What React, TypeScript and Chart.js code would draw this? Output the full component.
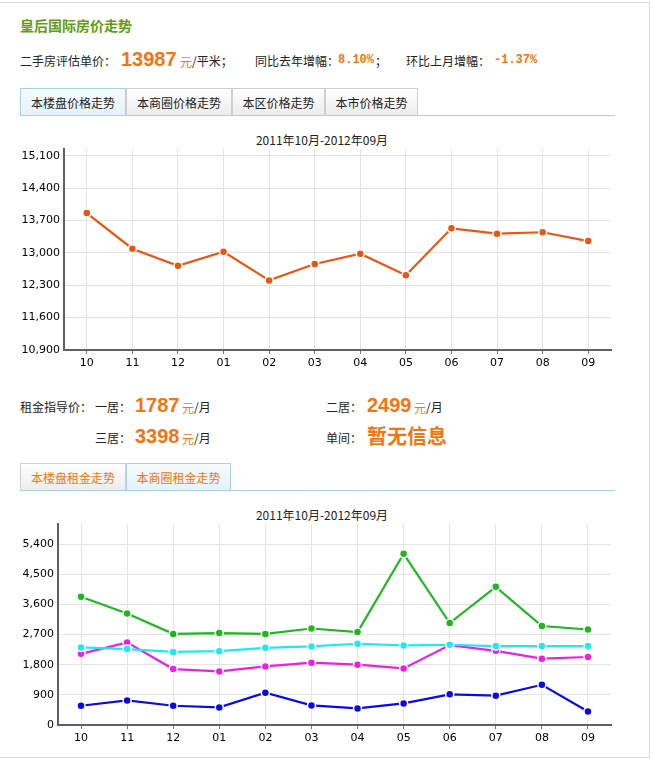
import React, { useEffect, useRef } from "react";
import { Chart, registerables } from "chart.js";
Chart.register(...registerables);

const months = ["10", "11", "12", "01", "02", "03", "04", "05", "06", "07", "08", "09"];
const priceValues = [13860, 13090, 12720, 13025, 12405, 12760, 12980, 12515, 13530, 13415, 13445, 13255];
const priceTicks = [10900, 11600, 12300, 13000, 13700, 14400, 15100];
const rentTicks = [0, 900, 1800, 2700, 3600, 4500, 5400];
const rentGreen = [3830, 3330, 2720, 2745, 2720, 2880, 2775, 5110, 3045, 4125, 2955, 2850];
const rentCyan = [2315, 2265, 2180, 2205, 2305, 2345, 2425, 2375, 2395, 2355, 2355, 2355];
const rentMagenta = [2125, 2465, 1670, 1600, 1750, 1860, 1800, 1690, 2385, 2215, 1980, 2030];
const rentBlue = [575, 735, 575, 525, 965, 585, 495, 645, 915, 875, 1200, 405];

const CJK = "'Noto Sans CJK SC', 'Liberation Sans', sans-serif";
const NUM = "'Liberation Sans', Arial, sans-serif";
const ORANGE = "#f6740f";

function buildOptions(min: number, max: number, tickValues: number[], pad: any, yWidth: number, xHeight: number): any {
  const tickFont = { family: "'DejaVu Sans', Verdana, sans-serif", size: 11 };
  return {
    animation: false,
    responsive: false,
    maintainAspectRatio: false,
    layout: { padding: pad },
    plugins: { legend: { display: false }, tooltip: { enabled: false }, title: { display: false } },
    elements: { line: { tension: 0 } },
    scales: {
      x: {
        offset: true,
        grid: { offset: false, color: "#e4e4e4", lineWidth: 1, drawTicks: true, tickLength: 4, tickColor: "#777" },
        border: { display: true, color: "#606060", width: 2 },
        ticks: { color: "#000", font: tickFont, padding: 3, maxRotation: 0, autoSkip: false },
        afterFit: (s: any) => {
          s.height = xHeight;
        },
      },
      y: {
        min,
        max,
        afterBuildTicks: (s: any) => {
          s.ticks = tickValues.map((v) => ({ value: v }));
        },
        grid: { color: "#e4e4e4", lineWidth: 1, drawTicks: false },
        border: { display: true, color: "#606060", width: 2 },
        ticks: {
          color: "#000",
          font: tickFont,
          padding: 4,
          callback: (v: any) => Number(v).toLocaleString("en-US"),
        },
        afterFit: (s: any) => {
          s.width = yWidth;
        },
      },
    },
  };
}

function ds(label: string, data: number[], color: string) {
  return {
    label,
    data,
    borderColor: color,
    backgroundColor: color,
    borderWidth: 2.2,
    pointRadius: 4,
    pointBackgroundColor: color,
    pointBorderColor: "#ffffff",
    pointBorderWidth: 1.5,
    fill: false,
  };
}

function Txt(props: { x: number; cy: number; size: number; color?: string; bold?: boolean; family?: string; children: any }) {
  const lh = Math.round(props.size * 1.4);
  return (
    <div
      style={{
        position: "absolute",
        left: props.x,
        top: props.cy - lh / 2,
        height: lh,
        lineHeight: lh + "px",
        fontSize: props.size,
        color: props.color || "#222",
        fontWeight: props.bold ? "bold" : "normal",
        fontFamily: props.family || CJK,
        whiteSpace: "nowrap",
      }}
    >
      {props.children}
    </div>
  );
}

function Tab(props: { x: number; w: number; top: number; label: string; active: boolean; color: string }) {
  return (
    <div
      style={{
        position: "absolute",
        left: props.x,
        top: props.top,
        width: props.w,
        height: 28,
        boxSizing: "border-box",
        border: "1px solid " + (props.active ? "#a8d2e3" : "#cfcfcf"),
        borderBottom: "none",
        background: props.active ? "linear-gradient(#f6fbfd, #e3f2f9)" : "linear-gradient(#ffffff, #ececec)",
        color: props.color,
        fontFamily: CJK,
        fontSize: 12,
        lineHeight: "27px",
        textAlign: "center",
        whiteSpace: "nowrap",
      }}
    >
      {props.label}
    </div>
  );
}

export default function App() {
  const c1 = useRef<HTMLCanvasElement>(null);
  const c2 = useRef<HTMLCanvasElement>(null);

  useEffect(() => {
    const ch1 = new Chart(c1.current as HTMLCanvasElement, {
      type: "line",
      data: { labels: months, datasets: [ds("本楼盘", priceValues, "#e8560f")] },
      options: buildOptions(10900, 15245, priceTicks, { top: 21, right: 29, left: 0, bottom: 0 }, 64, 28),
    });
    const ch2 = new Chart(c2.current as HTMLCanvasElement, {
      type: "line",
      data: {
        labels: months,
        datasets: [
          ds("一居", rentBlue, "#0a0ae6"),
          ds("二居", rentCyan, "#1ee8f4"),
          ds("三居", rentMagenta, "#ee1ee6"),
          ds("四居", rentGreen, "#1db81d"),
        ],
      },
      options: buildOptions(0, 6000, rentTicks, { top: 19, right: 29, left: 0, bottom: 0 }, 58, 30),
    });
    return () => {
      ch1.destroy();
      ch2.destroy();
    };
  }, []);

  return (
    <div style={{ position: "absolute", left: 0, top: 0, width: 652, height: 761, background: "#fff", overflow: "hidden" }}>
      <div
        style={{
          position: "absolute",
          left: -1,
          top: 2,
          width: 651,
          height: 756,
          boxSizing: "border-box",
          border: "1px solid #dcdcdc",
        }}
      />
      <Txt x={20} cy={25} size={14} bold color="#5f9c14">皇后国际房价走势</Txt>

      <Txt x={20} cy={60} size={12}>二手房评估单价：</Txt>
      <Txt x={121} cy={59} size={20} bold color={ORANGE} family={NUM}>13987</Txt>
      <Txt x={180} cy={61} size={12} color={ORANGE}>元</Txt>
      <Txt x={192} cy={60} size={12}>/平米；</Txt>
      <Txt x={255} cy={60} size={12}>同比去年增幅：</Txt>
      <Txt x={338} cy={60} size={12} bold color={ORANGE} family="'Liberation Mono', monospace">8.10%</Txt>
      <Txt x={375} cy={60} size={12}>；</Txt>
      <Txt x={406} cy={60} size={12}>环比上月增幅：</Txt>
      <Txt x={494} cy={60} size={12} bold color={ORANGE} family="'Liberation Mono', monospace">-1.37%</Txt>

      <Tab x={20} w={106} top={88} label="本楼盘价格走势" active={true} color="#222" />
      <Tab x={126} w={106} top={88} label="本商圈价格走势" active={false} color="#222" />
      <Tab x={232} w={93} top={88} label="本区价格走势" active={false} color="#222" />
      <Tab x={325} w={93} top={88} label="本市价格走势" active={false} color="#222" />
      <div style={{ position: "absolute", left: 20, top: 115, width: 595, height: 1, background: "#a8d2e3" }} />

      <div style={{ position: "absolute", left: 0, top: 132, width: 644, textAlign: "center", fontFamily: CJK, fontSize: 12, lineHeight: "16px", color: "#222" }}>
        2011年10月-2012年09月
      </div>
      <div style={{ position: "absolute", left: 0, top: 128, width: 640, height: 250 }}>
        <canvas ref={c1} width={640} height={250} style={{ width: 640, height: 250, display: "block" }} />
      </div>

      <Txt x={20} cy={406} size={12}>租金指导价：</Txt>
      <Txt x={95} cy={406} size={12}>一居：</Txt>
      <Txt x={135} cy={405} size={20} bold color={ORANGE} family={NUM}>1787</Txt>
      <Txt x={182} cy={407} size={12} color={ORANGE}>元</Txt>
      <Txt x={194} cy={406} size={12}>/月</Txt>
      <Txt x={326} cy={406} size={12}>二居：</Txt>
      <Txt x={367} cy={405} size={20} bold color={ORANGE} family={NUM}>2499</Txt>
      <Txt x={414} cy={407} size={12} color={ORANGE}>元</Txt>
      <Txt x={426} cy={406} size={12}>/月</Txt>

      <Txt x={95} cy={437} size={12}>三居：</Txt>
      <Txt x={135} cy={436} size={20} bold color={ORANGE} family={NUM}>3398</Txt>
      <Txt x={182} cy={438} size={12} color={ORANGE}>元</Txt>
      <Txt x={194} cy={437} size={12}>/月</Txt>
      <Txt x={326} cy={437} size={12}>单间：</Txt>
      <Txt x={367} cy={436} size={20} bold color={ORANGE}>暂无信息</Txt>

      <Tab x={20} w={106} top={463} label="本楼盘租金走势" active={false} color={ORANGE} />
      <Tab x={126} w={105} top={463} label="本商圈租金走势" active={true} color={ORANGE} />
      <div style={{ position: "absolute", left: 20, top: 490, width: 595, height: 1, background: "#a8d2e3" }} />

      <div style={{ position: "absolute", left: 0, top: 507, width: 644, textAlign: "center", fontFamily: CJK, fontSize: 12, lineHeight: "16px", color: "#222" }}>
        2011年10月-2012年09月
      </div>
      <div style={{ position: "absolute", left: 0, top: 505, width: 640, height: 250 }}>
        <canvas ref={c2} width={640} height={250} style={{ width: 640, height: 250, display: "block" }} />
      </div>
    </div>
  );
}
